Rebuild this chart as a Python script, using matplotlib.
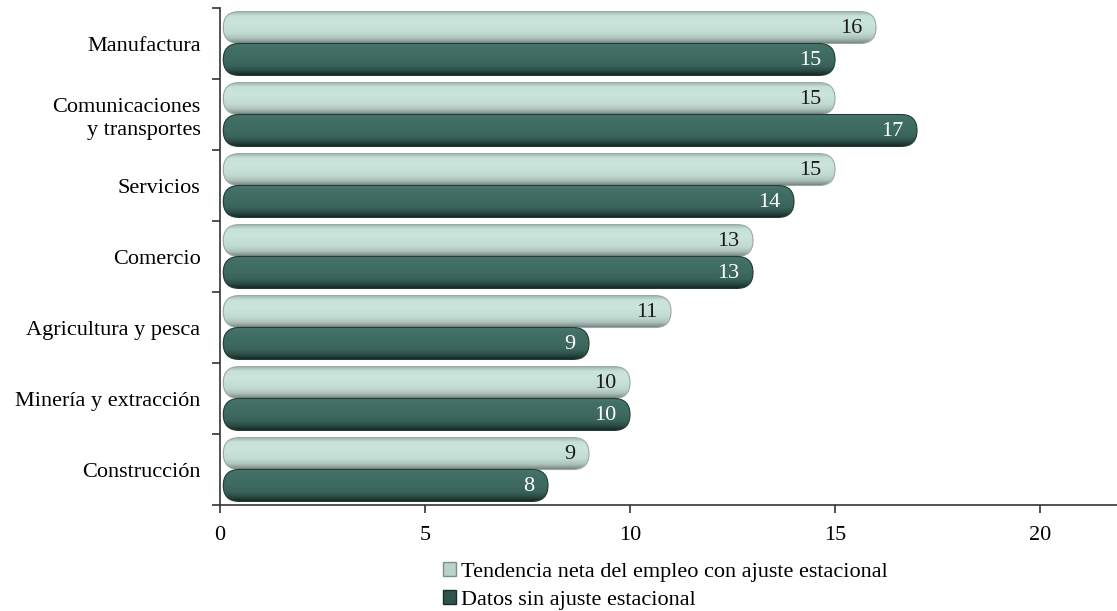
import numpy as np
import matplotlib
matplotlib.use("Agg")
import matplotlib.pyplot as plt
from matplotlib.patches import FancyBboxPatch, Patch
from matplotlib.colors import LinearSegmentedColormap

# ---------- data ----------
categorias = ["Manufactura", "Comunicaciones\ny transportes", "Servicios", "Comercio",
              "Agricultura y pesca", "Minería y extracción", "Construcción"]
tendencia = [16, 15, 15, 13, 11, 10, 9]
sin_ajuste = [15, 17, 14, 13, 9, 10, 8]
serie_names = ["Tendencia neta del empleo con ajuste estacional", "Datos sin ajuste estacional"]
xticks = [0, 5, 10, 15, 20]

plt.rcParams["font.family"] = ["Liberation Serif", "DejaVu Serif"]
FS = 16

# vertical gradients (top -> bottom), stops placed so the dark band sits low
light_cmap = LinearSegmentedColormap.from_list(
    "light", [(0.0, "#a7bab4"), (0.12, "#c8e2da"), (0.35, "#cbe5dd"), (0.65, "#c1dbd3"),
              (0.82, "#aec4bd"), (0.93, "#8a9995"), (1.0, "#6a7773")])
dark_cmap = LinearSegmentedColormap.from_list(
    "dark", [(0.0, "#4a746a"), (0.15, "#427066"), (0.5, "#3e6a60"), (0.72, "#38625a"),
             (0.86, "#2b4d45"), (0.95, "#1f3832"), (1.0, "#162a25")])

W, H = 1117, 611
fig = plt.figure(figsize=(W / 100, H / 100), dpi=100)
ax = fig.add_axes([220 / W, 1 - 505 / H, 1 - 220 / W, (505 - 8) / H])

xmax = (W - 220) / 41.0
ax.set_xlim(0, xmax)
ax.set_ylim(len(categorias) - 0.5, -0.5)

bar_h = 0.45
offs = 0.225
# pixel scale ratio for rounded corners
x_per_px = xmax / (W - 220)
y_per_px = len(categorias) / (505 - 8)
rad = 16 * x_per_px
grad = np.linspace(0, 1, 64).reshape(-1, 1)


def rounded_bar(y, v, cmap, edge, label_color):
    y0 = y - bar_h / 2
    patch = FancyBboxPatch((0.08, y0), v - 0.08, bar_h,
                           boxstyle=f"round,pad=0,rounding_size={rad}",
                           mutation_aspect=y_per_px / x_per_px,
                           facecolor="none", edgecolor=edge, linewidth=0.8, zorder=2.5)
    ax.add_patch(patch)
    im = ax.imshow(grad, cmap=cmap, extent=[0.08, v, y + bar_h / 2, y - bar_h / 2],
                   aspect="auto", origin="upper", zorder=2, interpolation="bilinear")
    im.set_clip_path(patch)
    ax.text(v - 0.34, y + 0.01, str(v), ha="right", va="center",
            fontsize=FS, color=label_color, zorder=3)


for i in range(len(categorias)):
    rounded_bar(i - offs, tendencia[i], light_cmap, "#9aaba6", "#1a1a1a")
    rounded_bar(i + offs, sin_ajuste[i], dark_cmap, "#223c35", "white")

ax.set_xlim(0, xmax)
ax.set_ylim(len(categorias) - 0.5, -0.5)

ax.spines["top"].set_visible(False)
ax.spines["right"].set_visible(False)
for s in ("left", "bottom"):
    ax.spines[s].set_color("#333333")
    ax.spines[s].set_linewidth(1.2)

ax.set_xticks(xticks)
ax.set_xticklabels([str(t) for t in xticks], fontsize=FS)
ax.set_yticks(range(len(categorias)))
ax.set_yticklabels(categorias, fontsize=FS, linespacing=1.25)
ax.tick_params(axis="y", length=0, pad=14)
ax.set_yticks(np.arange(-0.5, len(categorias), 1), minor=True)
ax.tick_params(axis="y", which="minor", length=6, width=1.2, color="#333333", direction="out")
ax.tick_params(axis="x", length=6, width=1.2, color="#333333", direction="out", pad=9)

handles = [Patch(facecolor="#b9d2cb", edgecolor="#7d8f8a", label=serie_names[0]),
           Patch(facecolor="#2f544b", edgecolor="#18302a", label=serie_names[1])]
fig.legend(handles=handles, loc="upper left", bbox_to_anchor=(443 / W, 1 - 562 / H),
           frameon=False, fontsize=FS, handlelength=0.6, handleheight=0.6,
           handletextpad=0.2, labelspacing=0.35, borderaxespad=0, borderpad=0)

fig.savefig("out.png", dpi=100)
